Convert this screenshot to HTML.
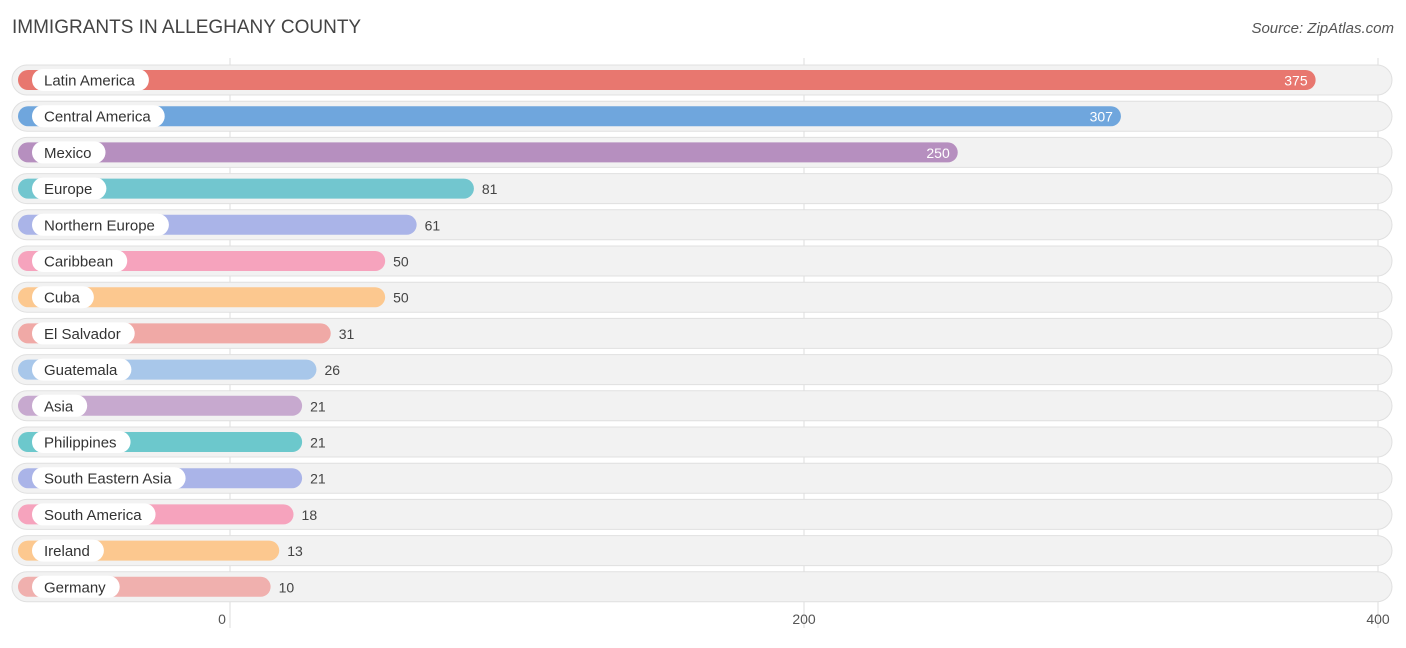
<!DOCTYPE html>
<html><head><meta charset="utf-8"><style>
body{margin:0;background:#fff;font-family:"Liberation Sans",sans-serif;}
svg text{font-family:"Liberation Sans",sans-serif;}
</style></head><body>
<svg id="chart" width="1406" height="643">
<text x="12" y="33" font-size="19" fill="#444">IMMIGRANTS IN ALLEGHANY COUNTY</text>
<text x="1394" y="33" font-size="15" fill="#555" font-style="italic" text-anchor="end">Source: ZipAtlas.com</text>
<g id="grid"></g><g id="rows"></g><g id="ticks"></g>
</svg>
<script>
const categories=["Latin America","Central America","Mexico","Europe","Northern Europe","Caribbean","Cuba","El Salvador","Guatemala","Asia","Philippines","South Eastern Asia","South America","Ireland","Germany"];
const values=[375,307,250,81,61,50,50,31,26,21,21,21,18,13,10];
const colors=["#e8776f","#6fa6dd","#b68fbf","#72c6cf","#aab4e8","#f6a3bd","#fcc88f","#f0a9a6","#a8c7ea","#c7a9cf","#6cc8cc","#aab4e8","#f6a3bd","#fcc88f","#f0b0ae"];
const tickVals=[0,200,400];
const NS="http://www.w3.org/2000/svg";
const x=v=>230+v*2.87;
const barEnd=v=>242+v*2.863;
const rowY=i=>80+i*36.2;
function mk(tag,attrs,parent){const e=document.createElementNS(NS,tag);for(const k in attrs)e.setAttribute(k,attrs[k]);parent.appendChild(e);return e;}
const grid=document.getElementById('grid'),rows=document.getElementById('rows'),ticks=document.getElementById('ticks');
tickVals.forEach(t=>{
 const l=mk('line',{x1:x(t),x2:x(t),y1:58,y2:628,stroke:'#ddd','stroke-width':1},grid);
 
 
 const tx=mk('text',{x:x(t)-(t===0?8:0),y:624,'font-size':14,fill:'#555','text-anchor':'middle'},ticks);
 tx.textContent=t;
 
 
});
const measure=mk('text',{'font-size':15,x:-1000,y:-1000},document.getElementById('chart'));
categories.forEach((c,i)=>{
 const cy=rowY(i);
 const g=mk('g',{},rows);
 
 
 mk('rect',{x:12,y:cy-15,width:1380,height:30,rx:15,fill:'#f2f2f2',stroke:'#e0e0e0','stroke-width':1},g);
 const end=barEnd(values[i]);
 const b=mk('rect',{x:18,y:cy-10,width:end-18,height:20,rx:10,fill:colors[i]},g);
 
 
 measure.textContent=c;
 const w=measure.getComputedTextLength();
 mk('rect',{x:32,y:cy-11,width:w+26,height:22,rx:11,fill:'#fff'},g);
 const lt=mk('text',{x:44,y:cy+5.5,'font-size':15,fill:'#333'},g);
 lt.textContent=c;
 
 
 const inside=values[i]>200;
 const vt=mk('text',{x:inside?end-8:end+8,y:cy+5.5,'font-size':14,fill:inside?'#fff':'#444','text-anchor':inside?'end':'start'},g);
 vt.textContent=values[i];
 
 
});
measure.remove();
</script>
</body></html>
